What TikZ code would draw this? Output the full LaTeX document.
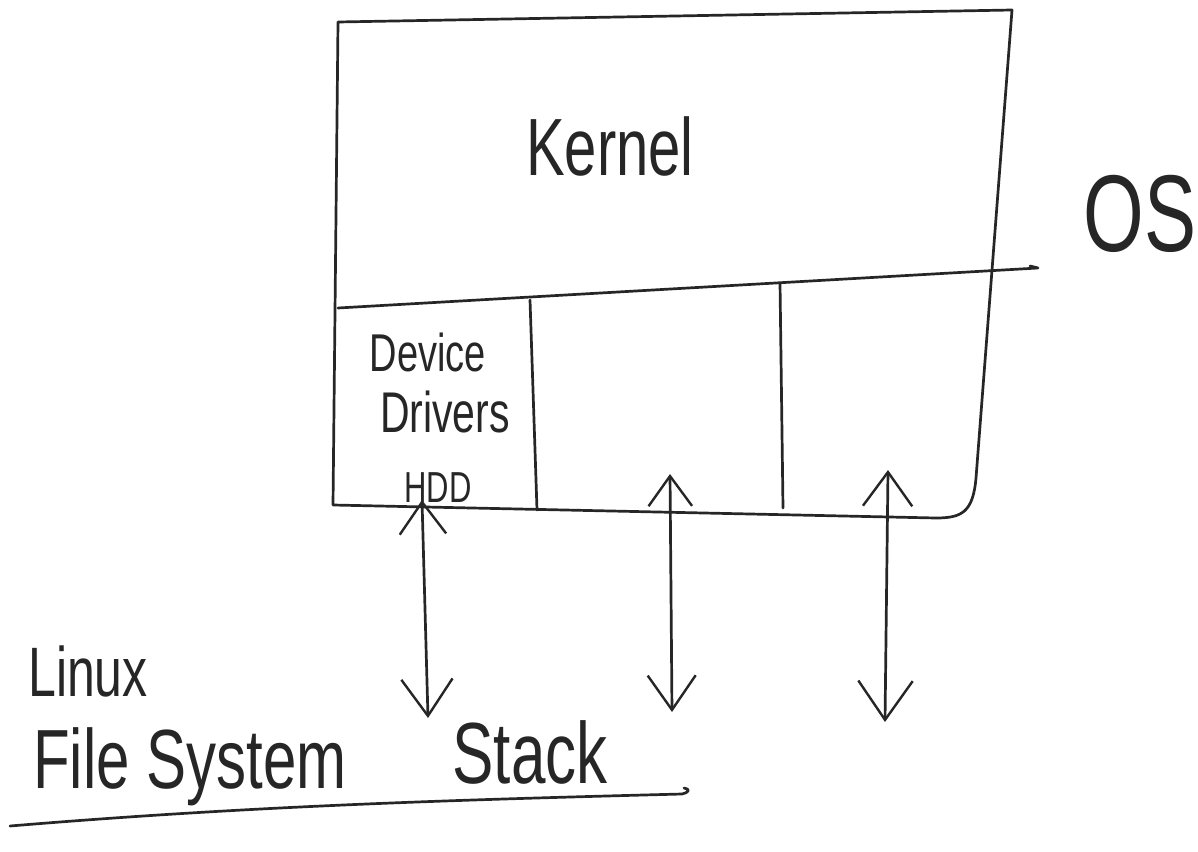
\documentclass[tikz,border=0pt]{standalone}
\usepackage{fontspec}
\setmainfont{Liberation Sans}
\usetikzlibrary{arrows.meta}
% handwritten letters are narrow and tall: stretch the glyphs upwards
\newcommand{\tallText}[1]{\scalebox{1}[1.4]{#1}}
\tikzset{
  pen/.style={line width=2.7pt, line cap=round, line join=round, black!85},
  label/.style={inner sep=0pt, black!85},
  dblarrow/.style={pen, {Straight Barb[length=#1, width=1.45*#1, line width=2.4pt]}-{Straight Barb[length=1.15*#1, width=1.6*#1, line width=2.4pt]}},
}
\begin{document}
\begin{tikzpicture}[x=1pt, y=-1pt]
  \useasboundingbox (0,0) rectangle (1198,851);

  % outer frame of the operating system block
  \draw[pen] (338,22) -- (1012,10) -- (976,478)
    .. controls (973,512) and (962,518) .. (936,518) -- (333,505) -- cycle;
  % kernel / driver separator, running out past the frame
  \draw[pen] (338,308) -- (1038,268) -- (1030,266);
  % driver slots
  \draw[pen] (530,300) -- (537,510);
  \draw[pen] (780,283) -- (783,508);

  % texts
  \node[label, font=\fontsize{58}{60}\selectfont] (kernel) at (610,146) {\tallText{Kernel}};
  \node[label, font=\fontsize{78}{80}\selectfont] (os) at (1140,214) {\tallText{OS}};
  \node[label, font=\fontsize{38}{40}\selectfont] (device) at (428,352) {\tallText{Device}};
  \node[label, font=\fontsize{41}{43}\selectfont] (drivers) at (445,412) {\tallText{Drivers}};
  \node[label, font=\fontsize{31}{33}\selectfont] (hdd) at (438,488) {\tallText{HDD}};
  \node[label, font=\fontsize{50}{52}\selectfont] (linux) at (88,671) {\tallText{Linux}};
  \node[label, font=\fontsize{60}{62}\selectfont] (fs) at (190,767) {\tallText{File System}};
  \node[label, font=\fontsize{62}{64}\selectfont] (stack) at (530,752) {\tallText{Stack}};

  % underline below the stack title
  \draw[pen] (10,826) .. controls (250,806) and (450,800) .. (682,794)
    .. controls (690,792) and (690,789) .. (684,788);

  % arrow end points
  \coordinate (a1t) at (422,500);
  \coordinate (a1b) at (428,718);
  \coordinate (a2t) at (670,474);
  \coordinate (a2b) at (672,712);
  \coordinate (a3t) at (888,470);
  \coordinate (a3b) at (885,722);

  % links between the drivers and the storage stack
  \draw[dblarrow=32pt] (a1t) -- (a1b);
  \draw[dblarrow=30pt] (a2t) -- (a2b);
  \draw[dblarrow=34pt] (a3t) -- (a3b);
\end{tikzpicture}
\end{document}
